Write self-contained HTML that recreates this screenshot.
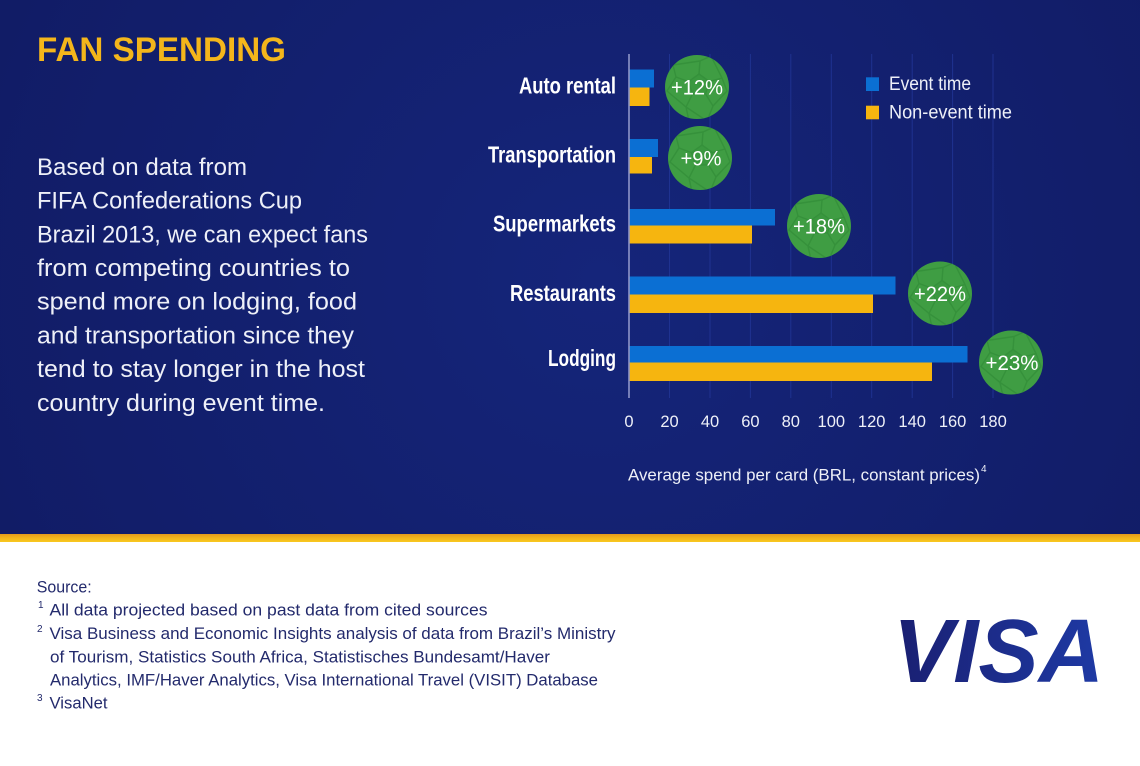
<!DOCTYPE html>
<html><head><meta charset="utf-8"><style>
html,body{margin:0;padding:0;background:#fff;}
svg{display:block;}
text{font-family:"Liberation Sans",sans-serif;}
</style></head><body>
<svg width="1140" height="766" viewBox="0 0 1140 766" xmlns="http://www.w3.org/2000/svg">
<defs>
<radialGradient id="bg" cx="600" cy="280" r="650" gradientUnits="userSpaceOnUse">
<stop offset="0" stop-color="#15257a"/>
<stop offset="1" stop-color="#111c66"/>
</radialGradient>
<linearGradient id="stripe" x1="0" y1="0" x2="0" y2="1">
<stop offset="0" stop-color="#e49a1c"/>
<stop offset="0.5" stop-color="#f2b51b"/>
<stop offset="1" stop-color="#f8c81f"/>
</linearGradient>
<linearGradient id="visa" x1="0" y1="0" x2="1" y2="0">
<stop offset="0" stop-color="#1a1f71"/>
<stop offset="1" stop-color="#1e3aa5"/>
</linearGradient>
<clipPath id="bc"><circle cx="0" cy="0" r="32"/></clipPath>
<g id="ball">
<circle cx="0" cy="0" r="32" fill="#3f9d43"/>
<g clip-path="url(#bc)" fill="none" stroke="#338c38" stroke-width="1.4" opacity="0.7">
<polygon points="2,-13 12.5,-5.4 8.5,6.9 -4.5,6.9 -8.5,-5.4" fill="#3a963e"/>
<line x1="2" y1="-13" x2="3" y2="-26"/>
<line x1="12.5" y1="-5.4" x2="25" y2="-9"/>
<line x1="8.5" y1="6.9" x2="16" y2="19"/>
<line x1="-4.5" y1="6.9" x2="-11" y2="20"/>
<line x1="-8.5" y1="-5.4" x2="-21" y2="-10"/>
<polyline points="3,-26 14,-31 25,-9 30,4"/>
<polyline points="-21,-10 -24,-22 3,-26"/>
<polyline points="-21,-10 -30,4 -11,20 -8,34"/>
<polyline points="16,19 30,4"/>
<polyline points="16,19 10,34 -11,20"/>
</g>
</g>
</defs>

<!-- backgrounds -->
<rect x="0" y="0" width="1140" height="534" fill="url(#bg)"/>
<rect x="0" y="534" width="1140" height="8" fill="url(#stripe)"/>
<rect x="0" y="542" width="1140" height="224" fill="#ffffff"/>

<!-- title -->
<text x="37" y="61" font-size="34" font-weight="bold" fill="#f4b61b" textLength="249" lengthAdjust="spacingAndGlyphs">FAN SPENDING</text>

<!-- body paragraph -->
<g font-size="24.5" fill="#eef0f8">
<text x="37" y="175" textLength="210" lengthAdjust="spacingAndGlyphs">Based on data from</text>
<text x="37" y="208.7" textLength="265" lengthAdjust="spacingAndGlyphs">FIFA Confederations Cup</text>
<text x="37" y="242.4" textLength="331" lengthAdjust="spacingAndGlyphs">Brazil 2013, we can expect fans</text>
<text x="37" y="276" textLength="313" lengthAdjust="spacingAndGlyphs">from competing countries to</text>
<text x="37" y="309.7" textLength="320" lengthAdjust="spacingAndGlyphs">spend more on lodging, food</text>
<text x="37" y="343.4" textLength="317" lengthAdjust="spacingAndGlyphs">and transportation since they</text>
<text x="37" y="377" textLength="328" lengthAdjust="spacingAndGlyphs">tend to stay longer in the host</text>
<text x="37" y="410.8" textLength="288" lengthAdjust="spacingAndGlyphs">country during event time.</text>
</g>

<!-- gridlines -->
<g stroke="#1f3290" stroke-width="1">
<line x1="669.5" y1="54" x2="669.5" y2="398"/>
<line x1="710" y1="54" x2="710" y2="398"/>
<line x1="750.4" y1="54" x2="750.4" y2="398"/>
<line x1="790.8" y1="54" x2="790.8" y2="398"/>
<line x1="831.3" y1="54" x2="831.3" y2="398"/>
<line x1="871.7" y1="54" x2="871.7" y2="398"/>
<line x1="912.2" y1="54" x2="912.2" y2="398"/>
<line x1="952.6" y1="54" x2="952.6" y2="398"/>
<line x1="993" y1="54" x2="993" y2="398"/>
</g>

<!-- bars -->
<g>
<rect x="629" y="69.5" width="25" height="18" fill="#0b6fd3"/>
<rect x="629" y="87.5" width="20.5" height="18.5" fill="#f6b50f"/>
<rect x="629" y="139" width="29" height="18" fill="#0b6fd3"/>
<rect x="629" y="157" width="23" height="16.5" fill="#f6b50f"/>
<rect x="629" y="209" width="146" height="16.5" fill="#0b6fd3"/>
<rect x="629" y="225.5" width="123" height="18" fill="#f6b50f"/>
<rect x="629" y="276.5" width="266.5" height="18" fill="#0b6fd3"/>
<rect x="629" y="294.5" width="244" height="18.5" fill="#f6b50f"/>
<rect x="629" y="346" width="338.5" height="16.5" fill="#0b6fd3"/>
<rect x="629" y="362.5" width="303" height="18.5" fill="#f6b50f"/>
</g>

<!-- axis line -->
<line x1="629" y1="54" x2="629" y2="398" stroke="#8e95c8" stroke-width="1.6"/>

<!-- category labels -->
<g font-size="23" font-weight="bold" fill="#ffffff" text-anchor="end">
<text x="616" y="93.3" textLength="97" lengthAdjust="spacingAndGlyphs">Auto rental</text>
<text x="616" y="162.7" textLength="128" lengthAdjust="spacingAndGlyphs">Transportation</text>
<text x="616" y="231.7" textLength="123" lengthAdjust="spacingAndGlyphs">Supermarkets</text>
<text x="616" y="301" textLength="106" lengthAdjust="spacingAndGlyphs">Restaurants</text>
<text x="616" y="366" textLength="68" lengthAdjust="spacingAndGlyphs">Lodging</text>
</g>

<!-- balls -->
<use href="#ball" transform="translate(697,87)"/>
<use href="#ball" transform="translate(700,158)"/>
<use href="#ball" transform="translate(819,226)"/>
<use href="#ball" transform="translate(940,293.5)"/>
<use href="#ball" transform="translate(1011,362.5)"/>
<g font-size="21" fill="#ffffff" text-anchor="middle">
<text x="697" y="94.5" textLength="52" lengthAdjust="spacingAndGlyphs">+12%</text>
<text x="701" y="165.5" textLength="41" lengthAdjust="spacingAndGlyphs">+9%</text>
<text x="819" y="233.5" textLength="52" lengthAdjust="spacingAndGlyphs">+18%</text>
<text x="940" y="301" textLength="52" lengthAdjust="spacingAndGlyphs">+22%</text>
<text x="1012" y="370" textLength="53" lengthAdjust="spacingAndGlyphs">+23%</text>
</g>

<!-- legend -->
<rect x="866" y="77.3" width="13" height="13.7" fill="#0b6fd3"/>
<rect x="866" y="105.7" width="13" height="13.6" fill="#f6b50f"/>
<g font-size="19" fill="#eef0f8">
<text x="889" y="90" textLength="82" lengthAdjust="spacingAndGlyphs">Event time</text>
<text x="889" y="118.3" textLength="123" lengthAdjust="spacingAndGlyphs">Non-event time</text>
</g>

<!-- tick labels -->
<g font-size="16.5" fill="#eef0f8" text-anchor="middle">
<text x="629" y="427">0</text>
<text x="669.5" y="427">20</text>
<text x="710" y="427">40</text>
<text x="750.4" y="427">60</text>
<text x="790.8" y="427">80</text>
<text x="831.3" y="427">100</text>
<text x="871.7" y="427">120</text>
<text x="912.2" y="427">140</text>
<text x="952.6" y="427">160</text>
<text x="993" y="427">180</text>
</g>

<!-- axis title -->
<text x="628" y="480.5" font-size="17" fill="#eef0f8" textLength="352" lengthAdjust="spacingAndGlyphs">Average spend per card (BRL, constant prices)</text>
<text x="981" y="472" font-size="10" fill="#eef0f8">4</text>

<!-- footnotes -->
<g font-size="17" fill="#232a6c">
<text x="36.7" y="592.3" textLength="55" lengthAdjust="spacingAndGlyphs">Source:</text>
<text x="38" y="608" font-size="10">1</text>
<text x="49.5" y="615.7" textLength="438" lengthAdjust="spacingAndGlyphs">All data projected based on past data from cited sources</text>
<text x="37" y="632" font-size="10">2</text>
<text x="49.5" y="639" textLength="566" lengthAdjust="spacingAndGlyphs">Visa Business and Economic Insights analysis of data from Brazil’s Ministry</text>
<text x="50" y="662.3" textLength="500" lengthAdjust="spacingAndGlyphs">of Tourism, Statistics South Africa, Statistisches Bundesamt/Haver</text>
<text x="50" y="685.5" textLength="548" lengthAdjust="spacingAndGlyphs">Analytics, IMF/Haver Analytics, Visa International Travel (VISIT) Database</text>
<text x="37" y="701" font-size="10">3</text>
<text x="49.5" y="708.5" textLength="58" lengthAdjust="spacingAndGlyphs">VisaNet</text>
</g>

<!-- VISA logo -->
<text x="893" y="682" font-size="90" font-weight="bold" font-style="italic" fill="url(#visa)" textLength="211" lengthAdjust="spacingAndGlyphs">VISA</text>
</svg>
</body></html>
